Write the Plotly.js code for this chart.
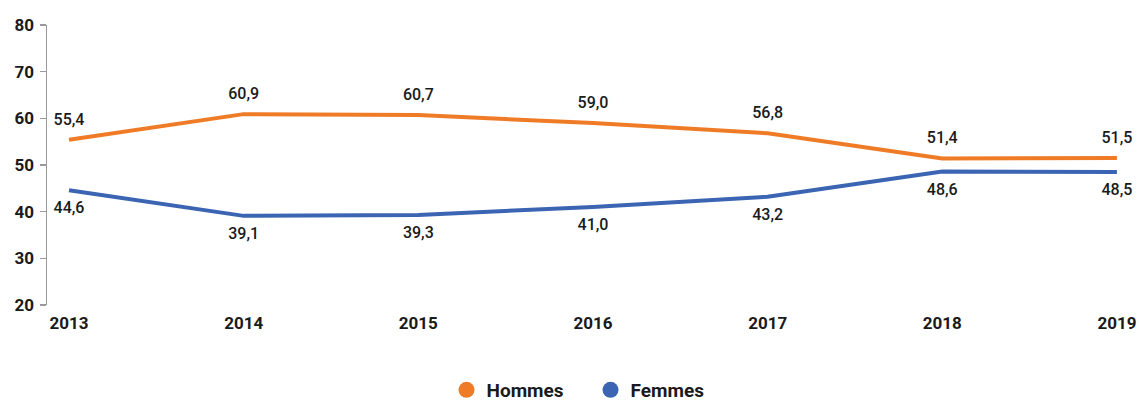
<!DOCTYPE html>
<html>
<head>
<meta charset="utf-8">
<script src="https://cdn.plot.ly/plotly-3.0.1.min.js"></script>
<style>html,body{margin:0;padding:0;background:#fff;}#chart{width:1139px;height:401px;}</style>
</head>
<body>
<div id="chart"></div>
<script>
const years = [2013, 2014, 2015, 2016, 2017, 2018, 2019];
const hommes = [55.4, 60.9, 60.7, 59.0, 56.8, 51.4, 51.5];
const femmes = [44.6, 39.1, 39.3, 41.0, 43.2, 48.6, 48.5];
const yTicks = [20, 30, 40, 50, 60, 70, 80];

const orange = '#EF7B26';
const blue = '#3B64B2';
const dark = '#1a1a1a';

const labelFont = {family: 'Roboto', size: 16, color: dark, weight: 500};

const traces = [
  {x: years, y: hommes, mode: 'lines+markers+text', name: 'Hommes', showlegend: false,
   line: {color: orange, width: 4}, marker: {size: 16, color: 'rgba(0,0,0,0)'},
   texttemplate: '%{y:.1f}', textposition: 'top center',
   textfont: labelFont, cliponaxis: false, hoverinfo: 'skip'},
  {x: years, y: femmes, mode: 'lines+markers+text', name: 'Femmes', showlegend: false,
   line: {color: blue, width: 4}, marker: {size: 16, color: 'rgba(0,0,0,0)'},
   texttemplate: '%{y:.1f}', textposition: 'bottom center',
   textfont: labelFont, cliponaxis: false, hoverinfo: 'skip'},
  {x: [null], y: [null], mode: 'markers', name: 'Hommes', marker: {color: orange, size: 20}},
  {x: [null], y: [null], mode: 'markers', name: 'Femmes', marker: {color: blue, size: 20}}
];

const layout = {
  width: 1139, height: 401,
  margin: {l: 47, r: 17, t: 25, b: 96, autoexpand: false},
  paper_bgcolor: '#fff', plot_bgcolor: '#fff',
  separators: ', ',
  showlegend: true,
  legend: {orientation: 'h', x: 0.5056, xanchor: 'center', yref: 'container', y: 0.0274, yanchor: 'middle',
           font: {family: 'Roboto', size: 19, color: dark, weight: 700},
           itemwidth: 30, tracegroupgap: 0, entrywidth: 99, entrywidthmode: 'pixels'},
  xaxis: {range: [2012.874, 2019.029], tickvals: years, ticktext: years.map(String),
          showgrid: false, zeroline: false, showline: false, ticks: '',
          tickfont: {family: 'Roboto', size: 17, color: dark, weight: 700},
          ticklabelstandoff: 6, fixedrange: true},
  yaxis: {range: [20, 80], tickvals: yTicks, showgrid: false, zeroline: false,
          showline: true, linecolor: '#9a9a9a', linewidth: 1.5,
          ticks: 'outside', ticklen: 6, tickcolor: '#9a9a9a', tickwidth: 1.5,
          tickfont: {family: 'Roboto', size: 17, color: dark, weight: 700},
          ticklabelstandoff: 2, fixedrange: true}
};

Plotly.newPlot('chart', traces, layout, {displayModeBar: false, staticPlot: true});
</script>
</body>
</html>
